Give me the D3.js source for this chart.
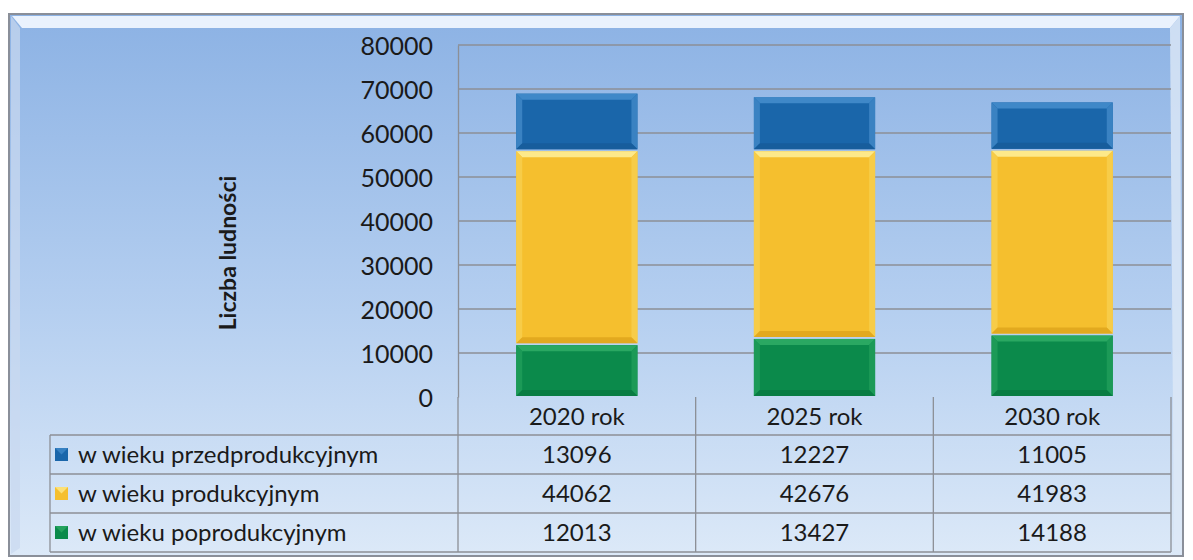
<!DOCTYPE html>
<html>
<head>
<meta charset="utf-8">
<script src="https://cdn.jsdelivr.net/npm/d3@7"></script>
<style>
  body { margin: 0; background: #fff; }
  text { font-family: Lato, "Open Sans", sans-serif; fill: #1a1a1a; }
</style>
</head>
<body>
<script>

// data
var years = ["2020 rok", "2025 rok", "2030 rok"];
var seriesNames = ["w wieku przedprodukcyjnym", "w wieku produkcyjnym", "w wieku poprodukcyjnym"];
var przed = [13096, 12227, 11005];
var prod = [44062, 42676, 41983];
var poprod = [12013, 13427, 14188];
var yTicks = [0, 10000, 20000, 30000, 40000, 50000, 60000, 70000, 80000];

var colors = ["#1a66aa", "#f5bf2e", "#0b8a4b"];
var lightEdge = ["#3f88c8", "#fde98a", "#2aa862"];
var sideEdge = ["#3a82c2", "#f7cc48", "#1c9a57"];
var darkEdge = ["#175d9c", "#e2a91f", "#097c43"];

var W = 1193, H = 560;
var plot = {left: 458, right: 1171, top: 45, bottom: 397};
var table = {left: 50, rowH: 39};

var svg = d3.select("body").append("svg")
    .attr("width", W)
    .attr("height", H);

var defs = svg.append("defs");
var bg = defs.append("linearGradient").attr("id", "bg")
    .attr("x1", 0).attr("y1", 0).attr("x2", 0).attr("y2", 1);
bg.append("stop").attr("offset", "0%").attr("stop-color", "#8cb2e4");
bg.append("stop").attr("offset", "55%").attr("stop-color", "#b5cff0");
bg.append("stop").attr("offset", "100%").attr("stop-color", "#dce9f8");

// chart frame
svg.append("rect")
    .attr("x", 9).attr("y", 14)
    .attr("width", 1174).attr("height", 542)
    .attr("fill", "url(#bg)")
    .attr("stroke", "#8a8f99")
    .attr("stroke-width", 2);
// bevel highlight along the top and sides
svg.append("path")
    .attr("d", "M12,16 L1180,16 L1170,28 L22,28 Z")
    .attr("fill", "#f4f8ff").attr("opacity", 0.9);
svg.append("path")
    .attr("d", "M1180,16 L1182,554 L1174,548 L1170,28 Z")
    .attr("fill", "#dde8f6").attr("opacity", 0.8);
svg.append("path")
    .attr("d", "M11,16 L20,28 L20,548 L11,554 Z")
    .attr("fill", "#c9d9ef").attr("opacity", 0.7);

var x = d3.scaleBand().domain(years).range([plot.left, plot.right]).paddingInner(0).paddingOuter(0);
var y = d3.scaleLinear().domain([0, 80000]).range([plot.bottom, plot.top]);

// gridlines
svg.append("g").selectAll("line").data(yTicks.slice(1)).enter().append("line")
    .attr("x1", plot.left).attr("x2", plot.right)
    .attr("y1", function(d) { return y(d); })
    .attr("y2", function(d) { return y(d); })
    .attr("stroke", "#8c8f96").attr("stroke-width", 1.3);

// y axis
var yAxis = d3.axisLeft(y).tickValues(yTicks).tickSize(0).tickPadding(25).tickFormat(d3.format("d"));
var gy = svg.append("g")
    .attr("transform", "translate(" + plot.left + ",0)")
    .call(yAxis);
gy.select(".domain").attr("stroke", "#8c8f96").attr("stroke-width", 1.3);
gy.selectAll("text").style("font-size", "25px").attr("fill", "#1a1a1a").attr("dy", "0.36em");

svg.append("text")
    .attr("transform", "translate(236,253) rotate(-90)")
    .attr("text-anchor", "middle")
    .style("font-size", "23px")
    .style("font-weight", "bold")
    .text("Liczba ludności");

// stacked bars, bottom to top: poprod, prod, przed
var rows = years.map(function(yr, i) {
    return {year: yr, przed: przed[i], prod: prod[i], poprod: poprod[i]};
});
var stack = d3.stack().keys(["poprod", "prod", "przed"]);
var layers = stack(rows);
var colorIdx = {poprod: 2, prod: 1, przed: 0};
var barW = x.bandwidth() * 0.51;
var bev = 6;

layers.forEach(function(layer) {
    var ci = colorIdx[layer.key];
    var g = svg.append("g");
    layer.forEach(function(d) {
        var x0 = x(d.data.year) + (x.bandwidth() - barW) / 2;
        var x1 = x0 + barW;
        var yT = y(d[1]) + 1;
        var yB = y(d[0]) - 1;
        g.append("rect")
            .attr("x", x0).attr("y", yT)
            .attr("width", barW).attr("height", yB - yT)
            .attr("fill", colors[ci]);
        // top edge
        g.append("path")
            .attr("d", "M" + x0 + "," + yT + "L" + x1 + "," + yT + "L" + (x1 - bev) + "," + (yT + bev) + "L" + (x0 + bev) + "," + (yT + bev) + "Z")
            .attr("fill", lightEdge[ci]);
        // left edge
        g.append("path")
            .attr("d", "M" + x0 + "," + yT + "L" + (x0 + bev) + "," + (yT + bev) + "L" + (x0 + bev) + "," + (yB - bev) + "L" + x0 + "," + yB + "Z")
            .attr("fill", sideEdge[ci]);
        // right edge
        g.append("path")
            .attr("d", "M" + x1 + "," + yT + "L" + (x1 - bev) + "," + (yT + bev) + "L" + (x1 - bev) + "," + (yB - bev) + "L" + x1 + "," + yB + "Z")
            .attr("fill", sideEdge[ci]);
        // bottom edge
        g.append("path")
            .attr("d", "M" + x0 + "," + yB + "L" + x1 + "," + yB + "L" + (x1 - bev) + "," + (yB - bev) + "L" + (x0 + bev) + "," + (yB - bev) + "Z")
            .attr("fill", darkEdge[ci]);
    });
});

// data table
var tbl = svg.append("g");
var tTop = plot.bottom;
var headBottom = tTop + 38;
var lineCol = "#8c8f96";

// header cells
tbl.selectAll("text.head").data(years).enter().append("text")
    .attr("class", "head")
    .attr("x", function(d) { return x(d) + x.bandwidth() / 2; })
    .attr("y", tTop + 19)
    .attr("dy", "0.36em")
    .attr("text-anchor", "middle")
    .style("font-size", "24px")
    .text(function(d) { return d; });

// horizontal lines
var hLines = [0, 1, 2, 3].map(function(i) { return headBottom + i * table.rowH; });
tbl.selectAll("line.h").data(hLines).enter().append("line")
    .attr("x1", table.left).attr("x2", plot.right)
    .attr("y1", function(d) { return d; }).attr("y2", function(d) { return d; })
    .attr("stroke", lineCol).attr("stroke-width", 1.3);
// vertical lines
var vLines = years.map(function(d) { return x(d); }).concat([plot.right]);
tbl.selectAll("line.v").data(vLines).enter().append("line")
    .attr("x1", function(d) { return d; }).attr("x2", function(d) { return d; })
    .attr("y1", tTop).attr("y2", hLines[3])
    .attr("stroke", lineCol).attr("stroke-width", 1.3);
tbl.append("line")
    .attr("x1", table.left).attr("x2", table.left)
    .attr("y1", hLines[0]).attr("y2", hLines[3])
    .attr("stroke", lineCol).attr("stroke-width", 1.3);

var tableData = [przed, prod, poprod];
seriesNames.forEach(function(name, r) {
    var cy = hLines[r] + table.rowH / 2;
    // legend key
    tbl.append("rect")
        .attr("x", 55).attr("y", cy - 6.5)
        .attr("width", 13).attr("height", 13)
        .attr("fill", colors[r]);
    tbl.append("path")
        .attr("d", "M55," + (cy - 6.5) + "l6.5,6.5l6.5,-6.5Z")
        .attr("fill", lightEdge[r]).attr("opacity", 0.8);
    tbl.append("text")
        .attr("x", 78).attr("y", cy)
        .attr("dy", "0.36em")
        .style("font-size", "24px")
        .text(name);
    tbl.selectAll("text.v" + r).data(tableData[r]).enter().append("text")
        .attr("x", function(d, i) { return x(years[i]) + x.bandwidth() / 2; })
        .attr("y", cy)
        .attr("dy", "0.36em")
        .attr("text-anchor", "middle")
        .style("font-size", "24px")
        .text(function(d) { return d; });
});

</script>
</body>
</html>
